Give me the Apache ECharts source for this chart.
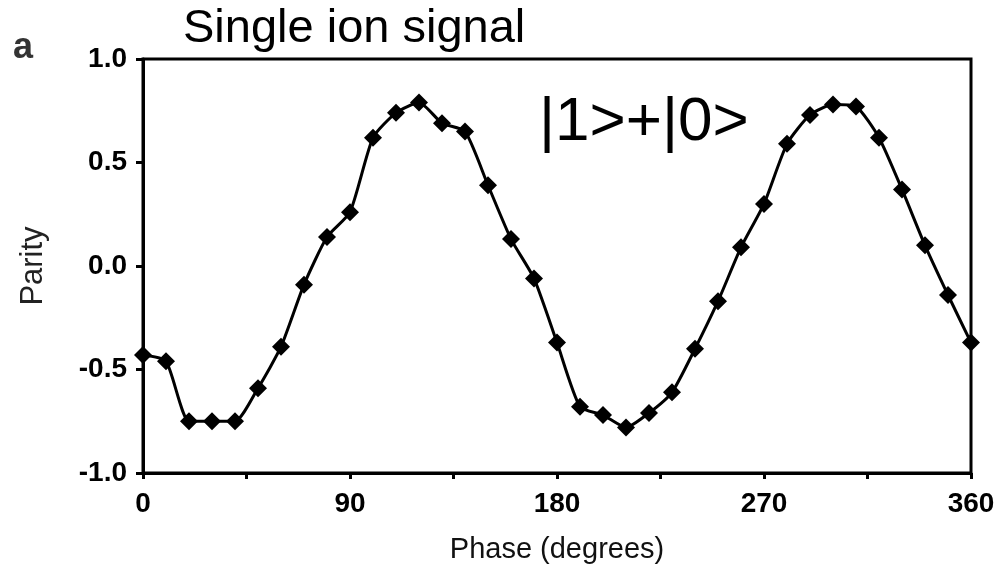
<!DOCTYPE html>
<html>
<head>
<meta charset="utf-8">
<script src="https://cdn.jsdelivr.net/npm/echarts@6/dist/echarts.min.js"></script>
<style>
  html, body { margin: 0; padding: 0; background: #fff; }
  #main { width: 1001px; height: 578px; }
</style>
</head>
<body>
<div id="main"></div>
<script>
var phase = [0, 10, 20, 30, 40, 50, 60, 70, 80, 90, 100, 110, 120, 130, 140, 150, 160, 170, 180,
  190, 200, 210, 220, 230, 240, 250, 260, 270, 280, 290, 300, 310, 320, 330, 340, 350, 360];
var parity = [-0.43, -0.46, -0.75, -0.75, -0.75, -0.59, -0.39, -0.09, 0.14, 0.26, 0.62, 0.74, 0.79,
  0.69, 0.65, 0.39, 0.13, -0.06, -0.37, -0.68, -0.72, -0.78, -0.71, -0.61, -0.40, -0.17, 0.09,
  0.30, 0.59, 0.73, 0.78, 0.77, 0.62, 0.37, 0.10, -0.14, -0.37];
var yTicks = [-1.0, -0.5, 0.0, 0.5, 1.0];

var chartDom = document.getElementById('main');
var myChart = echarts.init(chartDom);
var option;

var points = phase.map(function (p, i) { return [p, parity[i]]; });

option = {
  animation: false,
  grid: {
    left: 143, right: 30, top: 59, bottom: 105,
    show: true, borderColor: '#000', borderWidth: 3
  },
  graphic: [
    {
      type: 'text', left: 183, top: 6,
      style: { text: 'Single ion signal', fill: '#000', font: '47px "Liberation Sans", Arial, sans-serif' }
    },
    {
      type: 'text', left: 539, top: 92,
      style: { text: '|1>+|0>', fill: '#000', font: '62px "Liberation Sans", Arial, sans-serif' }
    },
    {
      type: 'text', left: 13, top: 30,
      style: { text: 'a', fill: '#333', font: 'bold 36px "Liberation Sans", Arial, sans-serif' }
    }
  ],
  xAxis: {
    type: 'value',
    min: 0, max: 360, interval: 45,
    name: 'Phase (degrees)',
    nameLocation: 'middle',
    nameGap: 62,
    nameTextStyle: { color: '#111', fontSize: 29, fontFamily: 'Liberation Sans' },
    axisLine: { show: true, onZero: false, lineStyle: { color: '#000', width: 3 } },
    axisTick: { show: true, length: 6, lineStyle: { color: '#000', width: 3 } },
    axisLabel: {
      color: '#000', fontSize: 28, fontWeight: 'bold', fontFamily: 'Liberation Sans', margin: 17,
      formatter: function (v) { return v % 90 === 0 ? String(v) : ''; }
    },
    splitLine: { show: false }
  },
  yAxis: {
    type: 'value',
    min: -1, max: 1, interval: 0.5,
    name: 'Parity',
    nameLocation: 'middle',
    nameGap: 94,
    nameTextStyle: { color: '#222', fontSize: 31, fontFamily: 'Liberation Sans' },
    axisLine: { show: true, onZero: false, lineStyle: { color: '#000', width: 3 } },
    axisTick: { show: true, length: 7, lineStyle: { color: '#000', width: 3 } },
    axisLabel: {
      color: '#000', fontSize: 28, fontWeight: 'bold', fontFamily: 'Liberation Sans', margin: 16,
      formatter: function (v) {
        var t = yTicks.filter(function (x) { return Math.abs(x - v) < 1e-9; })[0];
        return t === undefined ? '' : t.toFixed(1);
      }
    },
    splitLine: { show: false }
  },
  series: [
    {
      type: 'line',
      data: points,
      smooth: 0.2,
      clip: false,
      symbol: 'diamond',
      symbolSize: 18,
      itemStyle: { color: '#000' },
      lineStyle: { color: '#000', width: 3 }
    }
  ]
};

option && myChart.setOption(option);
</script>
</body>
</html>
